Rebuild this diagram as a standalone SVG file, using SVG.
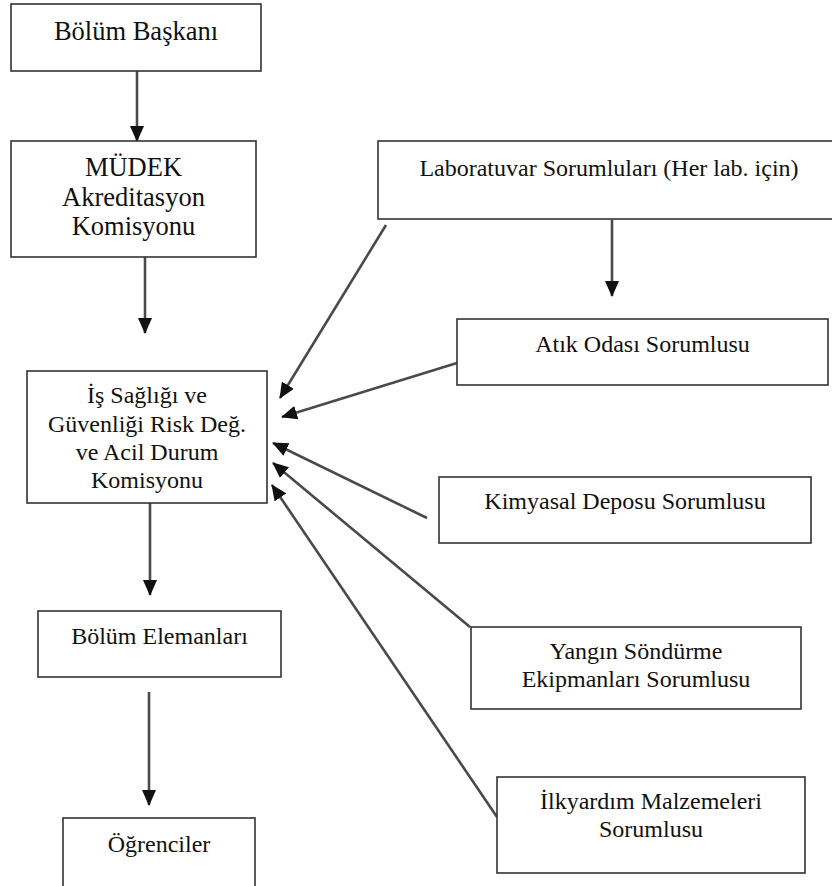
<svg xmlns="http://www.w3.org/2000/svg" width="832" height="886" viewBox="0 0 832 886">
<style>
.box{fill:#fff;stroke:#333;stroke-width:1.6}
text{font-family:'Liberation Serif','DejaVu Serif',Times,serif;font-size:24px;fill:#111;text-anchor:middle}
.tl{font-size:26.5px}
.c{stroke:#4a4a4a;stroke-width:2.6;fill:none;marker-end:url(#ah)}
</style>
<defs>
<marker id="ah" viewBox="0 0 16 14" refX="15" refY="7" markerWidth="16" markerHeight="14" markerUnits="userSpaceOnUse" orient="auto">
<path d="M0,0 L16,7 L0,14 Z" fill="#111"/>
</marker>
</defs>
<rect width="832" height="886" fill="#fff"/>
<g id="connectors">
<line class="c" x1="137" y1="71" x2="137" y2="141"/>
<line class="c" x1="145" y1="257" x2="145" y2="333"/>
<line class="c" x1="150" y1="503" x2="150" y2="595"/>
<line class="c" x1="149" y1="692" x2="149" y2="805"/>
<line class="c" x1="612" y1="220" x2="612" y2="296"/>
<line class="c" x1="386" y1="225" x2="280" y2="398"/>
<line class="c" x1="457" y1="363" x2="282" y2="417"/>
<line class="c" x1="427" y1="518" x2="273" y2="443"/>
<line class="c" x1="470" y1="627" x2="273" y2="463"/>
<line class="c" x1="497" y1="817" x2="272" y2="485"/>
</g>
<g id="bolum-baskani">
<rect class="box" x="11" y="4" width="250" height="67"/>
<text class="tl" x="136" y="40" font-family="Liberation Serif, serif">Bölüm Başkanı</text>
</g>
<g id="mudek">
<rect class="box" x="11" y="141" width="245" height="116"/>
<text class="tl" x="133.5" y="176" font-family="Liberation Serif, serif">MÜDEK</text>
<text class="tl" x="133.5" y="206" font-family="Liberation Serif, serif">Akreditasyon</text>
<text class="tl" x="133.5" y="235" font-family="Liberation Serif, serif">Komisyonu</text>
</g>
<g id="isg">
<rect class="box" x="27" y="371" width="240" height="132"/>
<text x="147" y="403">İş Sağlığı ve</text>
<text x="147" y="432">Güvenliği Risk Değ.</text>
<text x="147" y="460">ve Acil Durum</text>
<text x="147" y="488">Komisyonu</text>
</g>
<g id="bolum-elemanlari">
<rect class="box" x="38" y="611" width="243" height="66"/>
<text x="159.5" y="644">Bölüm Elemanları</text>
</g>
<g id="ogrenciler">
<rect class="box" x="63" y="818" width="192" height="90"/>
<text x="159" y="852">Öğrenciler</text>
</g>
<g id="laboratuvar">
<rect class="box" x="378" y="141" width="463" height="78"/>
<text x="609" y="176">Laboratuvar Sorumluları (Her lab. için)</text>
</g>
<g id="atik">
<rect class="box" x="457" y="319" width="371" height="66"/>
<text x="642.5" y="352">Atık Odası Sorumlusu</text>
</g>
<g id="kimyasal">
<rect class="box" x="439" y="477" width="372" height="66"/>
<text x="625" y="509">Kimyasal Deposu Sorumlusu</text>
</g>
<g id="yangin">
<rect class="box" x="471" y="627" width="330" height="82"/>
<text x="636" y="659">Yangın Söndürme</text>
<text x="636" y="687">Ekipmanları Sorumlusu</text>
</g>
<g id="ilkyardim">
<rect class="box" x="497" y="777" width="308" height="96"/>
<text x="651" y="809">İlkyardım Malzemeleri</text>
<text x="651" y="837">Sorumlusu</text>
</g>
</svg>
